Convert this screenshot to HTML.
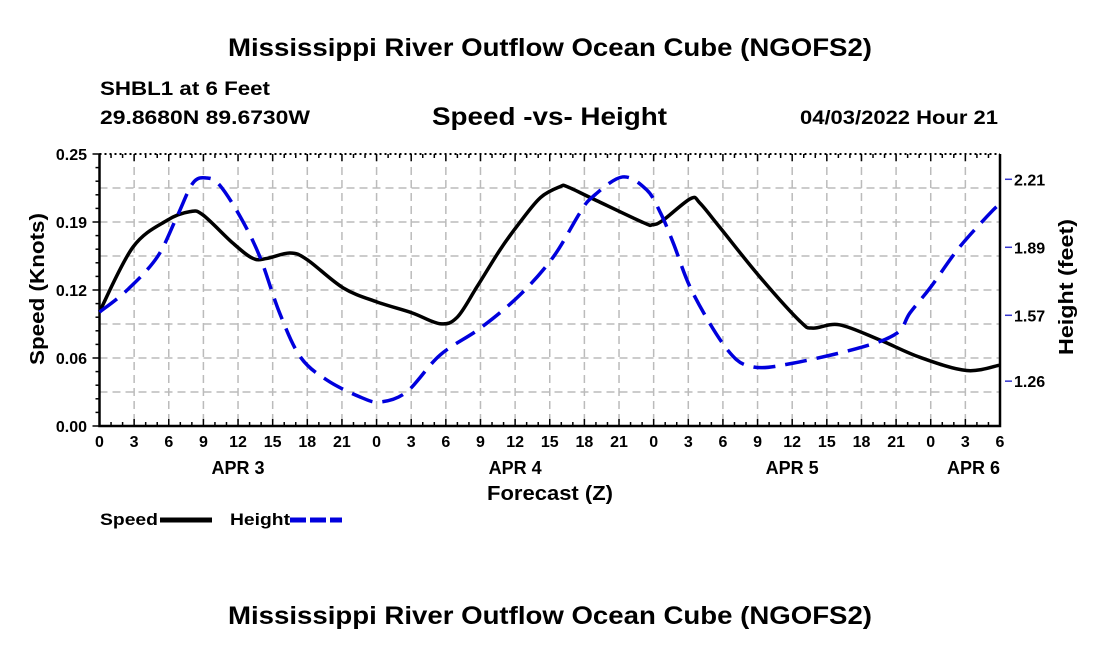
<!DOCTYPE html>
<html><head><meta charset="utf-8">
<style>
body{margin:0;background:#fff;}
svg{display:block;font-family:"Liberation Sans",Arial,sans-serif;font-weight:bold;}
</style></head>
<body>
<svg id="chart" width="1100" height="650" viewBox="0 0 1100 650">
<rect width="1100" height="650" fill="#fff"/>
<text x="228" y="56" font-size="25" textLength="644" lengthAdjust="spacingAndGlyphs">Mississippi River Outflow Ocean Cube (NGOFS2)</text>
<text x="100" y="95" font-size="19" textLength="170" lengthAdjust="spacingAndGlyphs">SHBL1 at 6 Feet</text>
<text x="100" y="124" font-size="19" textLength="210" lengthAdjust="spacingAndGlyphs">29.8680N  89.6730W</text>
<text x="432" y="125" font-size="25" textLength="235" lengthAdjust="spacingAndGlyphs">Speed -vs- Height</text>
<text x="800" y="124" font-size="19" textLength="198" lengthAdjust="spacingAndGlyphs">04/03/2022 Hour 21</text>
<g id="grid"></g>
<g id="axes"></g>
<g id="series"></g>
<text transform="translate(44,365) rotate(-90)" font-size="20" textLength="152" lengthAdjust="spacingAndGlyphs">Speed (Knots)</text>
<text transform="translate(1073,355) rotate(-90)" font-size="20" textLength="136" lengthAdjust="spacingAndGlyphs">Height (feet)</text>
<text x="487" y="500" font-size="20" textLength="126" lengthAdjust="spacingAndGlyphs">Forecast (Z)</text>
<g>
<text x="100" y="525" font-size="17" textLength="58" lengthAdjust="spacingAndGlyphs">Speed</text>
<line x1="160" y1="520" x2="212" y2="520" stroke="#000" stroke-width="5"/>
<text x="230" y="525" font-size="17" textLength="60" lengthAdjust="spacingAndGlyphs">Height</text>
<line x1="290" y1="520" x2="342" y2="520" stroke="#0000dd" stroke-width="5" stroke-dasharray="16,4"/>
</g>
<text x="228" y="624" font-size="25" textLength="644" lengthAdjust="spacingAndGlyphs">Mississippi River Outflow Ocean Cube (NGOFS2)</text>
</svg>
<script>
const speedHours=[0,2.9,5.85,7.84,8.96,11.56,13.3,14.5,16.5,17.97,21.1,24.04,27.07,29.5,30.99,32.7,34.7,36.4,38.2,39.9,40.5,42.7,47.1,47.9,48.8,51.2,52.0,53.7,57.2,60.7,61.8,64.1,67.6,71.1,75.1,78];
const speedValues=[0.105,0.1645,0.189,0.197,0.194,0.168,0.154,0.154,0.159,0.153,0.127,0.114,0.104,0.094,0.100,0.128,0.162,0.187,0.210,0.220,0.220,0.209,0.187,0.185,0.189,0.209,0.205,0.183,0.137,0.096,0.090,0.093,0.079,0.063,0.051,0.056];
const heightHours=[0,2.4,5.0,6.7,8.1,9.3,10.4,12.2,13.9,15.6,17.4,19.7,22.6,24.3,26.6,29.5,33.0,36.4,39.3,41.6,42.7,45.3,47.4,48.6,49.7,51.4,54.4,56.6,60.1,66.1,69.1,70.2,72.0,74.5,77.4,78];
const heightValues=[1.585,1.689,1.844,2.033,2.193,2.216,2.183,2.033,1.844,1.581,1.374,1.265,1.185,1.162,1.209,1.383,1.510,1.665,1.844,2.051,2.127,2.221,2.160,2.051,1.910,1.675,1.407,1.327,1.345,1.421,1.487,1.581,1.703,1.891,2.065,2.089];
const leftTicks=[0,0.0625,0.125,0.1875,0.25];
const leftTickLabels=["0.00","0.06","0.12","0.19","0.25"];
const rightTicks=[1.26,1.57,1.89,2.21];
const xTickLabels=["0","3","6","9","12","15","18","21","0","3","6","9","12","15","18","21","0","3","6","9","12","15","18","21","0","3","6"];
const dayLabels=["APR 3","APR 4","APR 5","APR 6"];
const dayLabelHours=[12,36,60,78];

const X0=99.5,X1=1000,Y0=426,Y1=154,HMAX=78;
const HMIN=1.049,HRANGE=1.28;
const xs=h=>X0+(X1-X0)*h/HMAX;
const ys=v=>Y0-(Y0-Y1)*v/0.25;
const yh=v=>Y0-(Y0-Y1)*(v-HMIN)/HRANGE;
const NS="http://www.w3.org/2000/svg";
function mk(tag,attrs,parent){const e=document.createElementNS(NS,tag);for(const k in attrs)e.setAttribute(k,attrs[k]);parent.appendChild(e);return e;}
const grid=document.getElementById('grid'),axes=document.getElementById('axes'),series=document.getElementById('series');
for(let i=1;i<8;i++){const y=Y0-(Y0-Y1)*i/8;
 const l=mk('line',{x1:X0,x2:X1,y1:y,y2:y,stroke:'#bbb','stroke-width':1.5,'stroke-dasharray':'8,5'},grid);
 
 }
for(let h=3;h<HMAX;h+=3){const x=xs(h);
 const l=mk('line',{x1:x,x2:x,y1:Y1,y2:Y0,stroke:'#bbb','stroke-width':1.5,'stroke-dasharray':'8,5'},grid);
 
 }
const frame=mk('path',{d:`M${X0},${Y1}V${Y0}H${X1}V${Y1}`,fill:'none',stroke:'#000','stroke-width':2.5},axes);


const topl=mk('line',{x1:X0,x2:X1,y1:Y1,y2:Y1,stroke:'#000','stroke-width':2,'stroke-dasharray':'2,3'},axes);


for(let h=0;h<=HMAX;h++){const x=xs(h),L=h%3==0?7:4;
 mk('line',{x1:x,x2:x,y1:Y0,y2:Y0-L,stroke:'#000','stroke-width':1.5},axes);
 mk('line',{x1:x,x2:x,y1:Y1,y2:Y1+L,stroke:'#000','stroke-width':1.5},axes);}
xTickLabels.forEach((t,i)=>{const e=mk('text',{x:xs(i*3),y:447,'text-anchor':'middle','font-size':16},axes);e.textContent=t;
 
 });
dayLabels.forEach((t,i)=>{const e=mk('text',{x:xs(dayLabelHours[i]),y:474,'text-anchor':'middle','font-size':18},axes);e.textContent=t;
 if(i==3)e.setAttribute('text-anchor','end'),e.setAttribute('x',X1);
 
 });
for(let i=0;i<=20;i++){const y=Y0-(Y0-Y1)*i/20;mk('line',{x1:X0,x2:X0-(i%5==0?7:4),y1:y,y2:y,stroke:'#000','stroke-width':1.5},axes);}
leftTicks.forEach((v,i)=>{const e=mk('text',{x:87,y:ys(v)+6,'text-anchor':'end','font-size':16},axes);e.textContent=leftTickLabels[i];
 
 });
rightTicks.forEach(v=>{const y=yh(v);mk('line',{x1:X1+5,x2:X1+12,y1:y,y2:y,stroke:'#33c','stroke-width':1.5},axes);
 const e=mk('text',{x:1014,y:y+6,'font-size':16},axes);e.textContent=v.toFixed(2);
 
 });
function smooth(pts){let d=`M${pts[0][0]},${pts[0][1]}`;
 for(let i=0;i<pts.length-1;i++){const p0=pts[i-1]||pts[i],p1=pts[i],p2=pts[i+1],p3=pts[i+2]||p2;
  d+=`C${p1[0]+(p2[0]-p0[0])/6},${p1[1]+(p2[1]-p0[1])/6} ${p2[0]-(p3[0]-p1[0])/6},${p2[1]-(p3[1]-p1[1])/6} ${p2[0]},${p2[1]}`;}
 return d;}
const sp=mk('path',{d:smooth(speedHours.map((h,i)=>[xs(h),ys(speedValues[i])])),fill:'none',stroke:'#000','stroke-width':3.5},series);


const hp=mk('path',{d:smooth(heightHours.map((h,i)=>[xs(h),yh(heightValues[i])])),fill:'none',stroke:'#0000dd','stroke-width':3.5,'stroke-dasharray':'22,10'},series);


</script>
</body></html>
